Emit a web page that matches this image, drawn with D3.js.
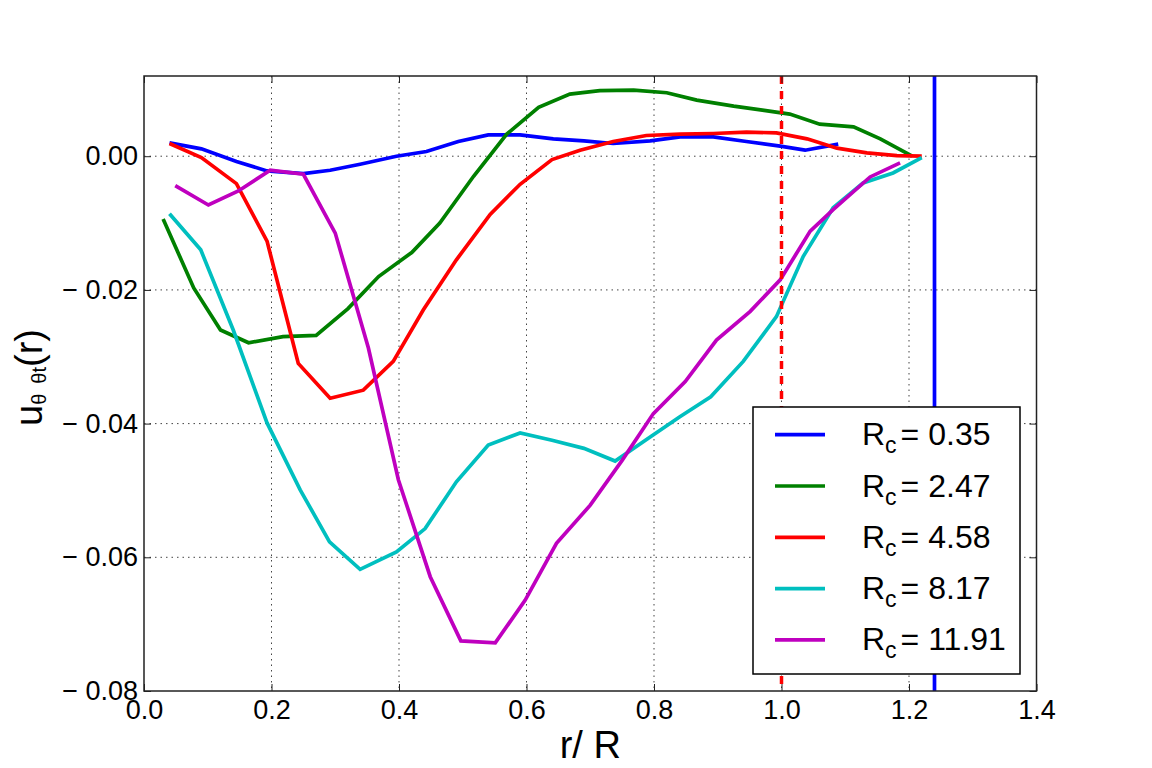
<!DOCTYPE html>
<html>
<head>
<meta charset="utf-8">
<script src="https://cdn.jsdelivr.net/npm/d3@7"></script>
<style>
  body { margin: 0; background: #fff; }
  text { font-family: "Liberation Sans", Arial, sans-serif; }
</style>
</head>
<body>
<div></div>
<script>
const width = 1152
const height = 768

// values
const rc = ['0.35', '2.47', '4.58', '8.17', '11.91']
const colors = ['#0000ff', '#008000', '#ff0000', '#00bfbf', '#bf00bf']

const r035 = [0.04, 0.09, 0.145, 0.193, 0.25, 0.292, 0.339, 0.396, 0.443, 0.493, 0.540, 0.590, 0.642, 0.69, 0.736, 0.794, 0.841, 0.893, 0.945, 0.998, 1.037, 1.089]
const u035 = [0.0020, 0.0011, -0.0008, -0.0022, -0.0026, -0.0021, -0.0012, 0.0000, 0.0007, 0.0022, 0.0032, 0.0032, 0.0026, 0.0023, 0.0019, 0.0023, 0.0029, 0.0029, 0.0022, 0.0015, 0.0009, 0.0018]

const r247 = [0.03, 0.078, 0.12, 0.164, 0.218, 0.27, 0.32, 0.368, 0.42, 0.464, 0.517, 0.569, 0.619, 0.668, 0.715, 0.768, 0.82, 0.867, 0.925, 0.97, 1.013, 1.06, 1.113, 1.155, 1.205]
const u247 = [-0.0094, -0.0197, -0.0260, -0.0279, -0.0270, -0.0268, -0.0228, -0.0180, -0.0144, -0.0100, -0.0030, 0.0033, 0.0073, 0.0093, 0.0098, 0.0099, 0.0095, 0.0084, 0.0075, 0.0069, 0.0063, 0.0048, 0.0044, 0.0026, 0.0000]

const r458 = [0.04, 0.09, 0.145, 0.193, 0.242, 0.292, 0.344, 0.391, 0.438, 0.49, 0.543, 0.59, 0.64, 0.684, 0.736, 0.788, 0.841, 0.893, 0.945, 0.992, 1.04, 1.087, 1.134, 1.181, 1.22]
const u458 = [0.0019, -0.0002, -0.0041, -0.0127, -0.0310, -0.0362, -0.0350, -0.0307, -0.0230, -0.0155, -0.0087, -0.0042, -0.0005, 0.0009, 0.0022, 0.0031, 0.0033, 0.0034, 0.0036, 0.0035, 0.0026, 0.0012, 0.0005, 0.0001, 0.0000]

const r817 = [0.04, 0.089, 0.14, 0.193, 0.245, 0.291, 0.339, 0.396, 0.441, 0.49, 0.54, 0.59, 0.64, 0.69, 0.739, 0.794, 0.84, 0.889, 0.94, 0.992, 1.034, 1.081, 1.128, 1.175, 1.22]
const u817 = [-0.0086, -0.0140, -0.0260, -0.0399, -0.0499, -0.0577, -0.0618, -0.0592, -0.0557, -0.0487, -0.0432, -0.0414, -0.0425, -0.0437, -0.0456, -0.0420, -0.0390, -0.0360, -0.0307, -0.0240, -0.0150, -0.0077, -0.0040, -0.0025, -0.0002]

const r1191 = [0.049, 0.101, 0.148, 0.198, 0.25, 0.30, 0.352, 0.399, 0.449, 0.497, 0.551, 0.598, 0.647, 0.70, 0.75, 0.799, 0.849, 0.898, 0.951, 0.998, 1.045, 1.081, 1.139, 1.186]
const u1191 = [-0.0044, -0.0073, -0.0052, -0.0021, -0.0027, -0.0115, -0.0287, -0.0484, -0.0629, -0.0725, -0.0728, -0.0664, -0.0579, -0.0522, -0.0455, -0.0385, -0.0337, -0.0275, -0.0232, -0.0185, -0.0112, -0.0080, -0.0031, -0.0010]

const xTicks = [0.0, 0.2, 0.4, 0.6, 0.8, 1.0, 1.2, 1.4]
const yTicks = [0.00, -0.02, -0.04, -0.06, -0.08]
const rDashed = 1.0
const rSolid = 1.24

const series = [[r035, u035], [r247, u247], [r458, u458], [r817, u817], [r1191, u1191]]

let svg = d3.select('div').append('svg')
    .attr('width', width)
    .attr('height', height)

svg.append('rect').attr('width', width).attr('height', height).style('fill', '#fff')

// plot box
const plotL = 144, plotR = 1036.5, plotT = 76, plotB = 691
const x = d3.scaleLinear().domain([0, 1.4]).range([plotL, plotR])
const y = d3.scaleLinear().domain([-0.08, 0.012]).range([plotB, plotT])

svg.append('defs').append('clipPath').attr('id', 'clip')
    .append('rect').attr('x', plotL).attr('y', plotT)
    .attr('width', plotR - plotL).attr('height', plotB - plotT)

// grid
let grid = svg.append('g')
grid.selectAll('.gx').data(xTicks.slice(1, -1)).enter().append('line')
    .attr('x1', d => x(d)).attr('x2', d => x(d))
    .attr('y1', plotT).attr('y2', plotB)
grid.selectAll('.gy').data(yTicks.slice(0, -1)).enter().append('line')
    .attr('x1', plotL).attr('x2', plotR)
    .attr('y1', d => y(d)).attr('y2', d => y(d))
grid.selectAll('line')
    .style('stroke', '#444')
    .style('stroke-width', 1)
    .style('stroke-dasharray', '1.5,4')

// curves
const line = d3.line().x(d => x(d[0])).y(d => y(d[1]))
let plot = svg.append('g').attr('clip-path', 'url(#clip)')
series.forEach((s, i) => {
    plot.append('path')
        .datum(s[0].map((r, j) => [r, s[1][j]]))
        .attr('d', line)
        .style('fill', 'none')
        .style('stroke', colors[i])
        .style('stroke-width', 3.7)
        .style('stroke-linejoin', 'miter')
})

plot.append('line')
    .attr('x1', x(rDashed)).attr('x2', x(rDashed))
    .attr('y1', plotT).attr('y2', plotB)
    .style('stroke', '#ff0000').style('stroke-width', 3.5)
    .style('stroke-dasharray', '8,7')
plot.append('line')
    .attr('x1', x(rSolid)).attr('x2', x(rSolid))
    .attr('y1', plotT).attr('y2', plotB)
    .style('stroke', '#0000ff').style('stroke-width', 3.7)

// axes, ticks pointing inward like the classic style
const yFmt = d => d < 0 ? '\u2212 ' + Math.abs(d).toFixed(2) : d.toFixed(2)
const ax = [
    svg.append('g').attr('transform', 'translate(0,' + plotB + ')')
        .call(d3.axisBottom(x).tickValues(xTicks).tickSize(-7).tickPadding(9).tickFormat(d3.format('.1f'))),
    svg.append('g').attr('transform', 'translate(' + plotL + ',0)')
        .call(d3.axisLeft(y).tickValues(yTicks).tickSize(-7).tickPadding(6).tickFormat(yFmt)),
    svg.append('g').attr('transform', 'translate(0,' + plotT + ')')
        .call(d3.axisTop(x).tickValues(xTicks).tickSize(-7).tickFormat('')),
    svg.append('g').attr('transform', 'translate(' + plotR + ',0)')
        .call(d3.axisRight(y).tickValues(yTicks).tickSize(-7).tickFormat(''))
]
ax.forEach(a => {
    a.select('.domain').remove()
    a.selectAll('line').style('stroke', '#222').style('stroke-width', 1)
    a.selectAll('text').style('font-size', '27px').style('fill', '#000')
        .style('font-family', '"Liberation Sans", Arial, sans-serif')
})

svg.append('rect')
    .attr('x', plotL).attr('y', plotT)
    .attr('width', plotR - plotL).attr('height', plotB - plotT)
    .style('fill', 'none').style('stroke', '#222').style('stroke-width', 1.5)

// axis labels
svg.append('text')
    .attr('x', (plotL + plotR) / 2).attr('y', 758)
    .attr('text-anchor', 'middle')
    .style('font-size', '38px')
    .text('r/ R')

let yl = svg.append('text')
    .attr('transform', 'translate(42,' + ((plotT + plotB) / 2 - 6) + ') rotate(-90)')
    .attr('text-anchor', 'middle')
    .style('font-size', '38px')
yl.append('tspan').text('u')
yl.append('tspan').attr('dy', 4).style('font-size', '20px').text('\u03b8')
yl.append('tspan').attr('dx', 10).style('font-size', '20px').text('\u03b8t')
yl.append('tspan').attr('dy', -4).text('(r)')

// legend
const lx = 753, ly = 407
let legend = svg.append('g')
legend.append('rect')
    .attr('x', lx).attr('y', ly).attr('width', 267).attr('height', 267)
    .style('fill', '#fff').style('stroke', '#000').style('stroke-width', 1.5)

let item = legend.selectAll('.item').data(rc).enter().append('g')
    .attr('transform', (d, i) => 'translate(0,' + (ly + 27.7 + i * 51.3) + ')')
item.append('line')
    .attr('x1', lx + 22).attr('x2', lx + 72)
    .style('stroke', (d, i) => colors[i]).style('stroke-width', 3.7)
let lt = item.append('text')
    .attr('x', lx + 109).attr('y', 10.5)
    .style('font-size', '32px')
lt.append('tspan').text('R')
lt.append('tspan').attr('dy', 8).style('font-size', '23px').text('c')
lt.append('tspan').attr('dy', -8).attr('dx', 4).text(d => '= ' + d)
</script>
</body>
</html>
